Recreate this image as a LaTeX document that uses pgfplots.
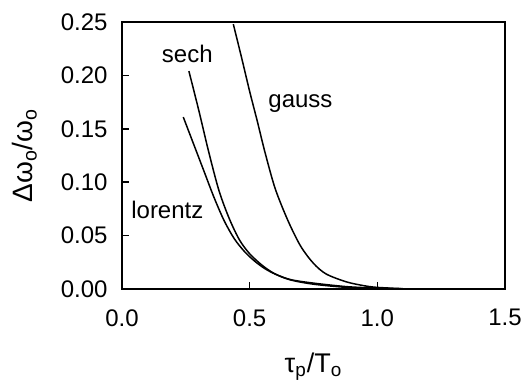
\documentclass[border=0pt]{standalone}
\usepackage{fontspec}
\setmainfont{Liberation Sans}
\usepackage{pgfplots}
\pgfplotsset{compat=1.18}
\begin{document}
\fontsize{12}{14}\selectfont
\begin{tikzpicture}
\useasboundingbox (-61pt,-48.5pt) rectangle (202.5pt,144.5pt);
\begin{axis}[
  at={(0,0)}, anchor=south west,
  scale only axis, width=191.5pt, height=133.5pt,
  xmin=0, xmax=1.5, ymin=0, ymax=0.25,
  xtick={0,0.5,1,1.5}, ytick={0,0.05,0.1,0.15,0.2,0.25},
  xtick pos=bottom, ytick pos=left,
  tick align=inside, major tick length=3.5pt,
  axis line style={line width=1.1pt},
  every tick/.style={line width=0.8pt, black},
  /pgf/number format/assume math mode=true,
  xticklabel style={/pgf/number format/fixed, /pgf/number format/fixed zerofill, /pgf/number format/precision=1, yshift=-6pt},
  yticklabel style={/pgf/number format/fixed, /pgf/number format/fixed zerofill, /pgf/number format/precision=2, xshift=-3pt},
  scaled y ticks=false,
  xlabel={τ\textsubscript{p}/T\textsubscript{o}},
  ylabel={Δω\textsubscript{o}/ω\textsubscript{o}},
  xlabel style={at={(axis description cs:0.5,-0.29)}, anchor=center, font=\fontsize{13.5}{15}\selectfont},
  ylabel style={at={(axis description cs:-0.255,0.5)}, anchor=center, font=\fontsize{14}{16}\selectfont},
  clip=true,
]
% gauss
\addplot[black, line width=0.75pt, smooth] coordinates {(0.436,0.248) (0.47,0.215) (0.50,0.185) (0.53,0.157) (0.56,0.128) (0.60,0.094) (0.65,0.064) (0.70,0.040) (0.75,0.024) (0.80,0.014) (0.88,0.0066) (0.95,0.003) (1.0,0.0015) (1.1,0.0003)};
% sech
\addplot[black, line width=0.75pt, smooth] coordinates {(0.262,0.204) (0.30,0.168) (0.34,0.128) (0.38,0.092) (0.42,0.066) (0.46,0.046) (0.50,0.033) (0.55,0.022) (0.60,0.014) (0.66,0.0085) (0.75,0.0045) (0.88,0.0015) (1.0,0.0004) (1.1,0.0001)};
% lorentz
\addplot[black, line width=0.75pt, smooth] coordinates {(0.240,0.161) (0.28,0.136) (0.32,0.111) (0.36,0.086) (0.40,0.064) (0.44,0.047) (0.48,0.035) (0.52,0.026) (0.56,0.019) (0.60,0.014) (0.66,0.0088) (0.75,0.0055) (0.88,0.0022) (1.0,0.0008) (1.1,0.0002)};
\node[anchor=base west, inner sep=0pt] at (axis cs:0.155,0.212) {sech};
\node[anchor=base west, inner sep=0pt] at (axis cs:0.572,0.1695) {gauss};
\node[anchor=base west, inner sep=0pt] at (axis cs:0.035,0.066) {lorentz};
\end{axis}
\end{tikzpicture}
\end{document}
